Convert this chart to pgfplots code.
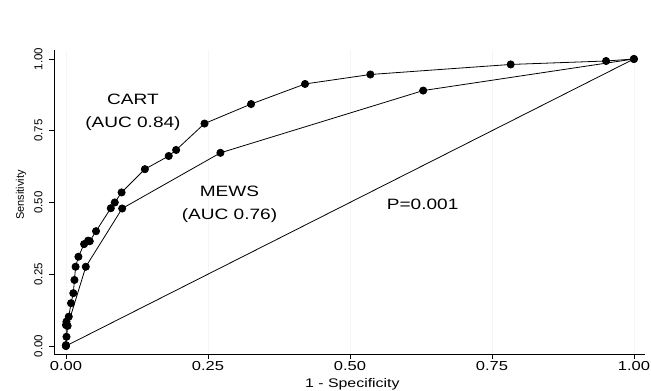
\documentclass[border=0pt]{standalone}
\usepackage{fontspec}
\setmainfont{Liberation Sans}
\newfontfamily\stretchedfont[FakeStretch=1.27]{Liberation Sans}
\usepackage{pgfplots}
\pgfplotsset{compat=1.18}
\begin{document}
\begin{tikzpicture}
\begin{axis}[
  scale only axis,
  width=590.7pt, height=303.9pt,
  xmin=-0.021, xmax=1.019, ymin=-0.028, ymax=1.031,
  axis x line=bottom, axis y line=left,
  axis line style={line width=0.9pt, -},
  xtick={0,0.25,0.5,0.75,1}, ytick={0,0.25,0.5,0.75,1},
  tick align=outside, major tick length=5pt,
  tick style={line width=0.8pt, black},
  xmajorgrids, grid style={gray!8, line width=0.5pt},
  /pgf/number format/assume math mode=true,
  /pgf/number format/.cd, fixed, fixed zerofill, precision=2, /pgfplots/.cd,
  xticklabel style={font=\stretchedfont\fontsize{13}{15}\selectfont, yshift=1pt},
  yticklabel style={font=\fontsize{11.5}{13}\selectfont, rotate=90, anchor=south},
  yticklabel shift=3pt,
  xlabel={1 - Specificity},
  xlabel style={font=\stretchedfont\fontsize{12.5}{14}\selectfont, at={(axis description cs:0.5,0)}, anchor=center, yshift=-30pt, xshift=3pt},
  ylabel={Sensitivity},
  ylabel style={font=\fontsize{11}{13}\selectfont, at={(axis description cs:0,0.5)}, anchor=center, yshift=33pt, xshift=7pt},
  clip=false,
]
\coordinate (O) at (axis cs:-0.021,-0.028);
% diagonal reference
\addplot[black, line width=0.8pt, no marks] coordinates {(0,0) (1,1)};
% MEWS
\addplot[black, line width=0.8pt, mark=*, mark size=3.6pt] coordinates {
(0,0) (0.003,0.07) (0.035,0.276) (0.099,0.479) (0.272,0.673) (0.629,0.890) (1,1)};
% CART
\addplot[black, line width=0.8pt, mark=*, mark size=3.6pt] coordinates {
(0,0) (0,0.003) (0.001,0.032) (0,0.073) (0.001,0.085) (0.005,0.102)
(0.009,0.149) (0.013,0.184) (0.015,0.23) (0.017,0.276) (0.022,0.311)
(0.032,0.355) (0.039,0.367) (0.042,0.365) (0.053,0.40) (0.079,0.48)
(0.086,0.50) (0.098,0.535) (0.139,0.616) (0.181,0.662) (0.194,0.683)
(0.244,0.775) (0.326,0.843) (0.421,0.913) (0.536,0.946) (0.783,0.981)
(0.951,0.993) (1,1)};
\node[align=center, font=\stretchedfont\fontsize{15}{23}\selectfont] at (axis cs:0.118,0.814) {CART\\(AUC 0.84)};
\node[align=center, font=\stretchedfont\fontsize{15}{23}\selectfont] at (axis cs:0.288,0.495) {MEWS\\(AUC 0.76)};
\node[font=\stretchedfont\fontsize{15}{18}\selectfont] at (axis cs:0.628,0.495) {P=0.001};
\end{axis}
\pgfresetboundingbox
\path[use as bounding box] (O) ++(-54pt,-37pt) rectangle ++(651pt,391pt);
\end{tikzpicture}
\end{document}
